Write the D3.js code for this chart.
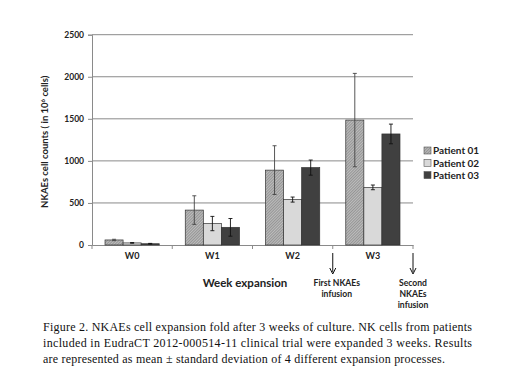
<!DOCTYPE html>
<html>
<head>
<meta charset="utf-8">
<script src="https://cdn.jsdelivr.net/npm/d3@7"></script>
<style>
  body { margin: 0; background: #fff; }
  svg { display: block; }
</style>
</head>
<body>
<div id="chart"></div>
<script>
const weeks = ["W0", "W1", "W2", "W3"];
const patients = ["Patient 01", "Patient 02", "Patient 03"];
const patient01 = [60, 415, 890, 1485];
const patient01Sd = [8, 170, 290, 555];
const patient02 = [25, 255, 540, 685];
const patient02Sd = [4, 85, 30, 28];
const patient03 = [15, 210, 920, 1320];
const patient03Sd = [4, 105, 90, 117];
const yTicks = [0, 500, 1000, 1500, 2000, 2500];
const captionLines = [
  "Figure 2. NKAEs cell expansion fold after 3 weeks of culture. NK cells from patients",
  "included in EudraCT 2012-000514-11 clinical trial were expanded 3 weeks. Results",
  "are represented as mean \u00b1 standard deviation of 4 different expansion processes."
];

const width = 520, height = 390;
const margin = {top: 34.7, left: 92, right: 107, bottom: 145};
const plotW = width - margin.left - margin.right;
const plotH = height - margin.top - margin.bottom;
const font = "Lato, 'Open Sans', sans-serif";

const svg = d3.select("#chart").append("svg")
    .attr("width", width)
    .attr("height", height);

// fine hatch for patient 01
const defs = svg.append("defs");
const pat = defs.append("pattern")
    .attr("id", "hatch")
    .attr("patternUnits", "userSpaceOnUse")
    .attr("width", 2).attr("height", 2)
    .attr("patternTransform", "rotate(45)");
pat.append("rect").attr("width", 2).attr("height", 2).attr("fill", "#bdbdbd");
pat.append("line").attr("x1", 0).attr("y1", 0).attr("x2", 0).attr("y2", 2)
    .attr("stroke", "#6e6e6e").attr("stroke-width", 1);

const fills = ["url(#hatch)", "#d9d9d9", "#404040"];

const g = svg.append("g")
    .attr("transform", "translate(" + margin.left + "," + margin.top + ")");

const x = d3.scaleBand().domain(weeks).range([0, plotW]);
const xInner = d3.scaleBand().domain(patients)
    .range([0, x.bandwidth()]).paddingOuter(0.72).paddingInner(0);
const y = d3.scaleLinear().domain([0, 2500]).range([plotH, 0]);

// gridlines
g.append("g").selectAll("line")
    .data(yTicks.slice(1))
    .enter().append("line")
    .attr("x1", 0).attr("x2", plotW)
    .attr("y1", d => y(d)).attr("y2", d => y(d))
    .attr("stroke", "#8a8a8a").attr("stroke-width", 1);

// y axis
const yAxis = g.append("g")
    .call(d3.axisLeft(y).tickValues(yTicks).tickFormat(d3.format("d")).tickSize(4).tickPadding(4));
yAxis.select(".domain").attr("stroke", "#8a8a8a");
yAxis.selectAll(".tick line").attr("stroke", "#8a8a8a");
yAxis.selectAll("text")
    .attr("font-family", font)
    .attr("font-weight", "bold").attr("font-size", 8.5).attr("fill", "#222");

// x axis
const xAxis = g.append("g")
    .attr("transform", "translate(0," + plotH + ")")
    .call(d3.axisBottom(x).tickSize(0).tickPadding(8));
xAxis.select(".domain").attr("stroke", "#8a8a8a");
xAxis.selectAll("text")
    .attr("font-family", font)
    .attr("font-weight", "bold").attr("font-size", 9).attr("fill", "#222");
xAxis.append("g").selectAll("line")
    .data(weeks.concat(["end"]))
    .enter().append("line")
    .attr("x1", (d, i) => i * x.step()).attr("x2", (d, i) => i * x.step())
    .attr("y1", 0).attr("y2", 4)
    .attr("stroke", "#8a8a8a");

// bars
const series = [
  {name: patients[0], vals: patient01, sd: patient01Sd},
  {name: patients[1], vals: patient02, sd: patient02Sd},
  {name: patients[2], vals: patient03, sd: patient03Sd}
];

series.forEach((s, si) => {
  const grp = g.append("g");
  grp.selectAll("rect")
      .data(weeks)
      .enter().append("rect")
      .attr("x", d => x(d) + xInner(s.name))
      .attr("y", (d, i) => y(s.vals[i]))
      .attr("width", xInner.bandwidth())
      .attr("height", (d, i) => plotH - y(s.vals[i]))
      .attr("fill", fills[si])
      .attr("stroke", "#333").attr("stroke-width", 0.7);

  // error bars
  const eb = grp.selectAll("g.err")
      .data(weeks)
      .enter().append("g").attr("class", "err");
  const cx = d => x(d) + xInner(s.name) + xInner.bandwidth() / 2;
  const col = si === 0 ? "#444" : "#111";
  eb.append("line")
      .attr("x1", cx).attr("x2", cx)
      .attr("y1", (d, i) => y(s.vals[i] + s.sd[i]))
      .attr("y2", (d, i) => y(s.vals[i] - s.sd[i]))
      .attr("stroke", col).attr("stroke-width", 0.9);
  [1, -1].forEach(sign => {
    eb.append("line")
        .attr("x1", d => cx(d) - 2).attr("x2", d => cx(d) + 2)
        .attr("y1", (d, i) => y(s.vals[i] + sign * s.sd[i]))
        .attr("y2", (d, i) => y(s.vals[i] + sign * s.sd[i]))
        .attr("stroke", col).attr("stroke-width", 0.9);
  });
});

// legend
const legend = svg.append("g").attr("transform", "translate(424,150.5)");
patients.forEach((p, i) => {
  const row = legend.append("g").attr("transform", "translate(0," + (i * 12.3) + ")");
  row.append("rect")
      .attr("x", 0).attr("y", -3.5).attr("width", 7).attr("height", 7)
      .attr("fill", fills[i]).attr("stroke", "#555").attr("stroke-width", 0.6);
  row.append("text")
      .attr("x", 9).attr("y", 3.7)
      .attr("font-family", font)
      .attr("font-weight", "bold").attr("font-size", 10).attr("fill", "#222")
      .text(p);
});

// y label
const yl = svg.append("text")
    .attr("transform", "translate(48," + (margin.top + plotH / 2 + 2) + ") rotate(-90)")
    .attr("text-anchor", "middle")
    .attr("font-family", font)
    .attr("font-weight", "bold").attr("font-size", 9.5).attr("fill", "#222");
yl.append("tspan").text("NKAEs cell counts ( in 10");
yl.append("tspan").attr("dy", -3).attr("font-size", 6).text("6");
yl.append("tspan").attr("dy", 3).text(" cells)");

// x label
svg.append("text")
    .attr("x", 245).attr("y", 286.5)
    .attr("text-anchor", "middle")
    .attr("font-family", font)
    .attr("font-weight", "bold").attr("font-size", 11.5).attr("fill", "#222")
    .text("Week expansion");

// infusion arrows
const infusions = [
  {week: 3, lines: ["First NKAEs", "infusion"], dx: 4},
  {week: 4, lines: ["Second", "NKAEs", "infusion"], dx: 0}
];
infusions.forEach(inf => {
  const ax = margin.left + inf.week * x.step();
  svg.append("line")
      .attr("x1", ax).attr("x2", ax).attr("y1", 253).attr("y2", 272)
      .attr("stroke", "#111").attr("stroke-width", 1);
  svg.append("path")
      .attr("d", `M${ax - 3},${268} L${ax},${274} L${ax + 3},${268}`)
      .attr("fill", "none").attr("stroke", "#111").attr("stroke-width", 1);
  inf.lines.forEach((t, i) => {
    svg.append("text")
        .attr("x", ax + inf.dx).attr("y", 285.5 + i * 11.2)
        .attr("text-anchor", "middle")
        .attr("font-family", font)
        .attr("font-weight", "bold").attr("font-size", 8.6).attr("fill", "#222")
        .text(t);
  });
});

// caption
const capLens = [429, 429, 402];
captionLines.forEach((t, i) => {
  svg.append("text")
      .attr("x", 43).attr("y", 331 + i * 16)
      .attr("font-family", "'Liberation Serif', 'Times New Roman', serif")
      .attr("font-size", 12).attr("fill", "#111")
      .attr("textLength", capLens[i]).attr("lengthAdjust", "spacing")
      .text(t);
});
</script>
</body>
</html>
